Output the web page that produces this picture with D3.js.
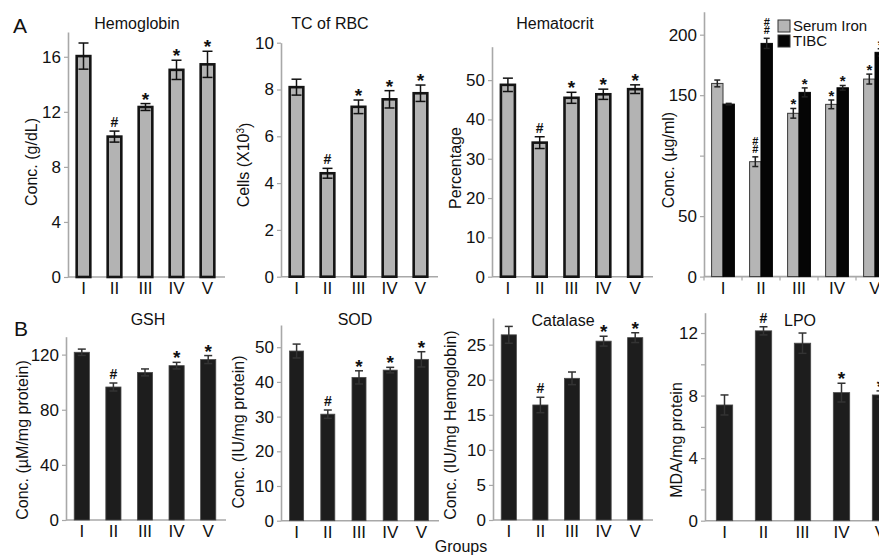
<!DOCTYPE html>
<html>
<head>
<meta charset="utf-8">
<script src="https://cdn.jsdelivr.net/npm/d3@7/dist/d3.min.js"></script>
<style>
  body { margin: 0; background: #fff; }
  svg { font-family: "Liberation Sans", Arial, sans-serif; }
</style>
</head>
<body>
<div id="chart"></div>
<script>
// groups on the x axis
const groups = ["I", "II", "III", "IV", "V"];

// A - haematology
const hbValues = [16.05, 10.2, 12.35, 15.05, 15.45];
const hbErrors = [0.95, 0.4, 0.25, 0.7, 0.95];
const hbMarks = ["", "#", "*", "*", "*"];
const hbTicks = [0, 4, 8, 12, 16];

const rbcValues = [8.1, 4.42, 7.26, 7.58, 7.84];
const rbcErrors = [0.34, 0.21, 0.29, 0.37, 0.35];
const rbcMarks = ["", "#", "*", "*", "*"];
const rbcTicks = [0, 2, 4, 6, 8, 10];

const hctValues = [48.8, 34.1, 45.5, 46.4, 47.7];
const hctErrors = [1.7, 1.5, 1.4, 1.3, 1.1];
const hctMarks = ["", "#", "*", "*", "*"];
const hctTicks = [0, 10, 20, 30, 40, 50];

const ironValues = [159.7, 95, 135, 142.4, 163.3];
const ironErrors = [2.8, 4, 4, 3.6, 4.1];
const ironMarks = ["", "##", "*", "*", "*"];
const tibcValues = [142.6, 192.8, 152.3, 156.1, 185.4];
const tibcErrors = [0.6, 4.2, 3.7, 1.9, 3];
const tibcMarks = ["", "##", "*", "*", "*"];
const ironTicks = [0, 50, 100, 150, 200];
const ironTickLabels = ["0", "50", "", "150", "200"];

// B - antioxidant status
const gshValues = [121.7, 96.5, 107.1, 112, 116.4];
const gshErrors = [2.3, 2.9, 2.5, 2.4, 2.9];
const gshMarks = ["", "#", "", "*", "*"];
const gshTicks = [0, 40, 80, 120];

const sodValues = [48.9, 30.7, 41.3, 43.4, 46.5];
const sodErrors = [2.0, 1.2, 1.9, 0.8, 2.2];
const sodMarks = ["", "#", "*", "*", "*"];
const sodTicks = [0, 10, 20, 30, 40, 50];

const catValues = [26.4, 16.4, 20.2, 25.5, 26.0];
const catErrors = [1.2, 1.1, 0.9, 0.7, 0.7];
const catMarks = ["", "#", "", "*", "*"];
const catTicks = [0, 5, 10, 15, 20, 25];

const lpoValues = [7.4, 12.14, 11.35, 8.19, 8.04];
const lpoErrors = [0.64, 0.26, 0.65, 0.6, 0.26];
const lpoMarks = ["", "#", "", "*", "*"];
const lpoTicks = [0, 4, 8, 12];
const lpoMinorTicks = [2, 6, 10];

const svg = d3.select("#chart")
  .append("svg")
  .attr("width", 879)
  .attr("height", 556);

const axisGrey = "#a8a8a8";

function drawMark(g, mark, cx, yTop, small) {
  if (!mark) return;
  const hashSize = small ? 11 : 14;
  const starSize = small ? 15 : 19;
  if (mark === "*") {
    g.append("text").attr("x", cx).attr("y", yTop + (small ? 3 : 4))
      .attr("text-anchor", "middle").attr("font-size", starSize)
      .attr("font-weight", "bold").attr("fill", "#111").text("*");
  } else {
    // stacked hashes in one text element
    const t = g.append("text").attr("text-anchor", "middle")
      .attr("font-size", hashSize).attr("font-weight", "bold").attr("fill", "#111");
    const n = mark.length;
    for (let k = 0; k < n; k++) {
      t.append("tspan").attr("x", cx).attr("y", yTop - 2 - (n - 1 - k) * 8).text("#");
    }
  }
}

function drawPanel(p) {
  const g = svg.append("g");

  const y = d3.scaleLinear().domain([0, p.max]).range([p.y0, p.yTop]);
  const x = d3.scaleBand()
    .domain(groups)
    .range(p.xRange)
    .paddingInner(p.pad)
    .paddingOuter(p.pad / 2);

  // Eixo y
  const yAxis = d3.axisLeft(y)
    .tickValues(p.ticks)
    .tickSize(4)
    .tickSizeOuter(0)
    .tickPadding(3)
    .tickFormat((d, i) => p.tickLabels ? p.tickLabels[i] : d);
  const ya = g.append("g")
    .attr("transform", `translate(${p.xRange[0]},0)`)
    .call(yAxis);
  ya.select(".domain").attr("stroke", axisGrey).attr("stroke-width", 1.6);
  ya.selectAll(".tick line").attr("stroke", axisGrey).attr("stroke-width", 1.2);
  ya.selectAll(".tick text").attr("font-size", 17).attr("fill", "#111")
    .attr("font-family", "Liberation Sans, Arial, sans-serif");

  if (p.minor) {
    const ym = g.append("g")
      .attr("transform", `translate(${p.xRange[0]},0)`)
      .call(d3.axisLeft(y).tickValues(p.minor).tickSize(4).tickSizeOuter(0).tickFormat(""));
    ym.select(".domain").remove();
    ym.selectAll(".tick line").attr("stroke", axisGrey).attr("stroke-width", 1.2);
  }

  // Eixo x
  g.append("line")
    .attr("x1", p.xRange[0]).attr("x2", p.xRange[1] + 2)
    .attr("y1", p.y0).attr("y2", p.y0)
    .attr("stroke", axisGrey).attr("stroke-width", 1.6);

  const xa = g.append("g")
    .attr("transform", `translate(0,${p.y0})`)
    .call(d3.axisBottom(x).tickSize(0).tickPadding(5));
  xa.select(".domain").remove();
  xa.selectAll(".tick text").attr("font-size", 17).attr("fill", "#111")
    .attr("font-family", "Liberation Sans, Arial, sans-serif");

  if (p.groupTicks) {
    const gap = (x.step() - x.bandwidth()) / 2;
    g.selectAll(".gtick")
      .data(groups)
      .enter()
      .append("line")
      .attr("x1", d => x(d) - gap).attr("x2", d => x(d) - gap)
      .attr("y1", p.y0).attr("y2", p.y0 + 4)
      .attr("stroke", axisGrey).attr("stroke-width", 1.2);
  }

  // Barras
  const n = p.series.length;
  const sub = x.bandwidth() / n;
  p.series.forEach((s, k) => {
    const bx = d => x(d) + k * sub;
    g.selectAll(null)
      .data(groups)
      .enter()
      .append("rect")
      .attr("x", d => bx(d))
      .attr("y", (d, i) => y(s.values[i]))
      .attr("width", sub)
      .attr("height", (d, i) => p.y0 - y(s.values[i]))
      .attr("fill", s.fill)
      .attr("stroke", s.stroke)
      .attr("stroke-width", s.strokeWidth);

    // error bars
    const cap = s.cap;
    groups.forEach((d, i) => {
      const cx = bx(d) + sub / 2;
      const hi = y(s.values[i] + s.errors[i]);
      const lo = y(s.values[i] - s.errors[i]);
      g.append("line").attr("x1", cx).attr("x2", cx).attr("y1", hi).attr("y2", lo)
        .attr("stroke", s.errColor).attr("stroke-width", 1.5);
      [hi, lo].forEach(yy => {
        g.append("line").attr("x1", cx - cap).attr("x2", cx + cap).attr("y1", yy).attr("y2", yy)
          .attr("stroke", s.errColor).attr("stroke-width", 1.5);
      });
      drawMark(g, s.marks[i], cx, hi - 2, n > 1);
    });
  });

  // Títulos
  if (p.title) {
    g.append("text")
      .attr("x", p.titleX).attr("y", p.titleY)
      .attr("text-anchor", "middle")
      .attr("font-size", 16).attr("fill", "#111")
      .text(p.title);
  }

  const yl = g.append("text")
    .attr("transform", `translate(${p.yLabelX},${p.yLabelY}) rotate(-90)`)
    .attr("text-anchor", "middle")
    .attr("dy", "0.35em")
    .attr("font-size", 16).attr("fill", "#111");
  if (p.yLabelSup) {
    yl.append("tspan").text(p.yLabel);
    yl.append("tspan").attr("dy", "-0.45em").attr("font-size", 10).text(p.yLabelSup);
    yl.append("tspan").attr("dy", "0.45em").text(")");
  } else {
    yl.text(p.yLabel);
  }
  return { x, y };
}

const greyBar = { fill: "#b3b3b3", stroke: "#141414", strokeWidth: 2.6, errColor: "#111", cap: 5 };
const darkBar = { fill: "#1d1d1d", stroke: "#4a4a4a", strokeWidth: 0.8, errColor: "#333", cap: 4 };

// Row A
drawPanel({
  xRange: [68, 223], pad: 0.56, y0: 277, yTop: 32, max: 17.8, ticks: hbTicks,
  title: "Hemoglobin", titleX: 137, titleY: 29,
  yLabel: "Conc. (g/dL)", yLabelX: 31, yLabelY: 162,
  series: [Object.assign({ values: hbValues, errors: hbErrors, marks: hbMarks }, greyBar)]
});

drawPanel({
  xRange: [281, 436], pad: 0.56, y0: 276.7, yTop: 42.7, max: 10, ticks: rbcTicks,
  title: "TC of RBC", titleX: 330, titleY: 29,
  yLabel: "Cells (X10", yLabelSup: "3", yLabelX: 243, yLabelY: 165,
  series: [Object.assign({ values: rbcValues, errors: rbcErrors, marks: rbcMarks }, greyBar)]
});

drawPanel({
  xRange: [492, 651], pad: 0.56, y0: 276.7, yTop: 46.7, max: 58.5, ticks: hctTicks,
  title: "Hematocrit", titleX: 555, titleY: 29,
  yLabel: "Percentage", yLabelX: 455, yLabelY: 168,
  series: [Object.assign({ values: hctValues, errors: hctErrors, marks: hctMarks }, greyBar)]
});

drawPanel({
  xRange: [704, 894], pad: 0.4, y0: 276.6, yTop: 11.7, max: 219, ticks: ironTicks,
  tickLabels: ironTickLabels, groupTicks: true,
  yLabel: "Conc. (\u00b5g/ml)", yLabelX: 668, yLabelY: 160,
  series: [
    { values: ironValues, errors: ironErrors, marks: ironMarks, fill: "#b5b5b5", stroke: "#3a3a3a", strokeWidth: 1, errColor: "#222", cap: 3 },
    { values: tibcValues, errors: tibcErrors, marks: tibcMarks, fill: "#050505", stroke: "#050505", strokeWidth: 1, errColor: "#222", cap: 3 }
  ]
});

// Legenda
const legend = [
  { name: "Serum Iron", fill: "#b5b5b5" },
  { name: "TIBC", fill: "#050505" }
];
const lg = svg.append("g").attr("transform", "translate(778,20)");
lg.selectAll("rect")
  .data(legend)
  .enter()
  .append("rect")
  .attr("x", 0).attr("y", (d, i) => i * 15)
  .attr("width", 12).attr("height", 12)
  .attr("fill", d => d.fill).attr("stroke", "#333").attr("stroke-width", 1);
lg.selectAll("text")
  .data(legend)
  .enter()
  .append("text")
  .attr("x", 15).attr("y", (d, i) => i * 15 + 11)
  .attr("font-size", 15).attr("fill", "#111")
  .text(d => d.name);

// Row B
drawPanel({
  xRange: [66, 224], pad: 0.52, y0: 520, yTop: 336.7, max: 133, ticks: gshTicks,
  title: "GSH", titleX: 148, titleY: 325,
  yLabel: "Conc. (\u00b5M/mg protein)", yLabelX: 22, yLabelY: 440,
  series: [Object.assign({ values: gshValues, errors: gshErrors, marks: gshMarks }, darkBar)]
});

drawPanel({
  xRange: [281, 437], pad: 0.55, y0: 520.7, yTop: 325, max: 56.4, ticks: sodTicks,
  title: "SOD", titleX: 355, titleY: 325,
  yLabel: "Conc. (IU/mg protein)", yLabelX: 238, yLabelY: 432,
  series: [Object.assign({ values: sodValues, errors: sodErrors, marks: sodMarks }, darkBar)]
});

drawPanel({
  xRange: [493, 651], pad: 0.52, y0: 520, yTop: 318, max: 28.8, ticks: catTicks,
  title: "Catalase", titleX: 563, titleY: 326,
  yLabel: "Conc. (IU/mg Hemoglobin)", yLabelX: 450, yLabelY: 425,
  series: [Object.assign({ values: catValues, errors: catErrors, marks: catMarks }, darkBar)]
});

drawPanel({
  xRange: [705, 900], pad: 0.58, y0: 520.7, yTop: 312.7, max: 13.3, ticks: lpoTicks,
  minor: lpoMinorTicks,
  title: "LPO", titleX: 800, titleY: 326,
  yLabel: "MDA/mg protein", yLabelX: 676, yLabelY: 440,
  series: [Object.assign({ values: lpoValues, errors: lpoErrors, marks: lpoMarks }, darkBar)]
});

// Letras dos painéis e rótulo comum
svg.append("text").attr("x", 13).attr("y", 33).attr("font-size", 21).attr("fill", "#111").text("A");
svg.append("text").attr("x", 14).attr("y", 336).attr("font-size", 21).attr("fill", "#111").text("B");
svg.append("text").attr("x", 461).attr("y", 552).attr("text-anchor", "middle")
  .attr("font-size", 16).attr("fill", "#111").text("Groups");
</script>
</body>
</html>
